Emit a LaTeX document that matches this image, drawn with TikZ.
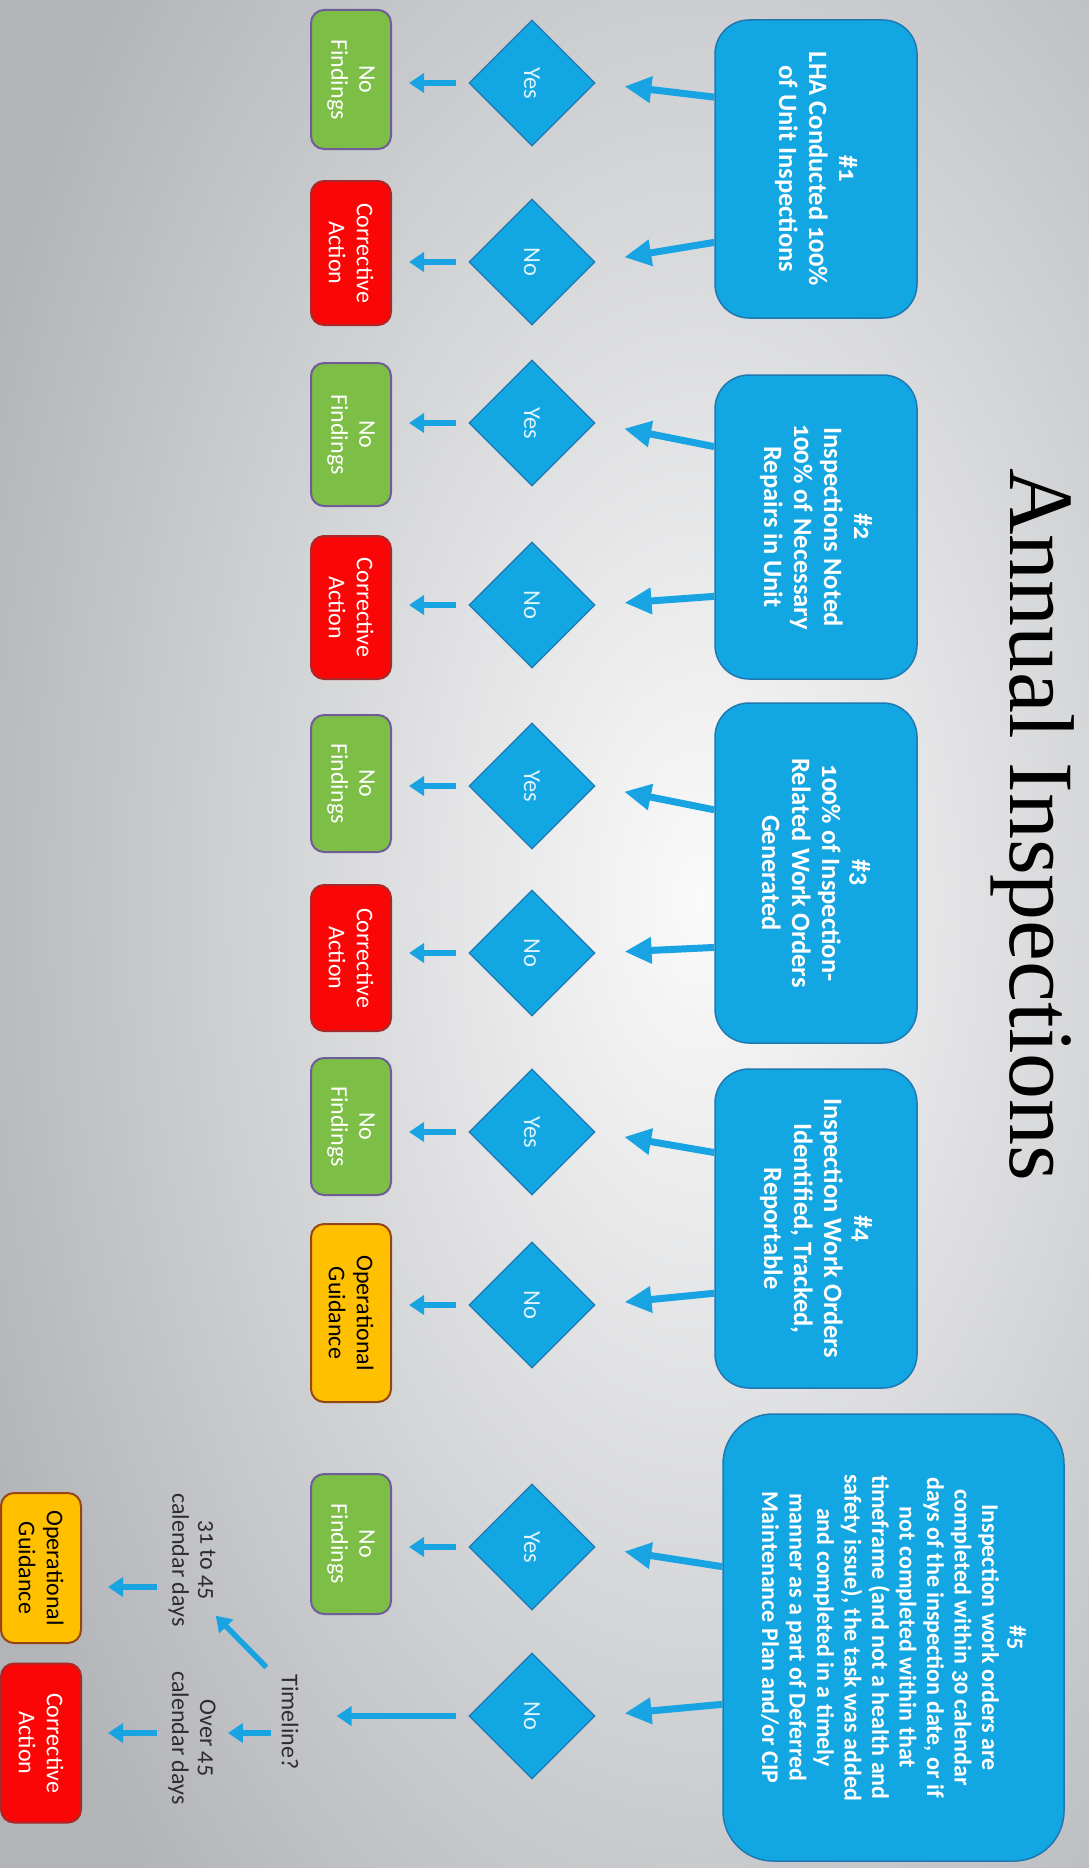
\documentclass[tikz,border=0pt]{standalone}
\usepackage{fontspec}
\setmainfont{Carlito}[Numbers=OldStyle]
\newfontfamily\titlefont{Liberation Serif}
\usetikzlibrary{shapes.geometric,arrows.meta,calc}
\definecolor{boxblue}{RGB}{18,166,226}
\definecolor{boxedge}{RGB}{32,120,178}
\definecolor{arrowblue}{RGB}{24,163,226}
\definecolor{okgreen}{RGB}{125,190,70}
\definecolor{okedge}{RGB}{112,92,150}
\definecolor{badred}{RGB}{250,6,6}
\definecolor{rededge}{RGB}{170,40,40}
\definecolor{guideorange}{RGB}{255,192,0}
\definecolor{orangeedge}{RGB}{150,70,20}
\definecolor{bgouter}{RGB}{178,180,184}
\definecolor{bginner}{RGB}{250,250,250}
\definecolor{labelgray}{RGB}{45,45,45}
\definecolor{paletext}{RGB}{222,243,252}
\tikzset{
  stepbox/.style={rounded corners=34pt, fill=boxblue, draw=boxedge, line width=1.5pt,
    text=white, align=center, font=\bfseries\fontsize{26.5}{30}\selectfont, inner sep=0pt,
    minimum height=202pt},
  decision/.style={diamond, fill=boxblue, draw=boxedge, line width=1.2pt,
    minimum width=126pt, minimum height=126pt, inner sep=0pt, text=paletext,
    font=\fontsize{24.5}{26}\selectfont},
  result/.style={rounded corners=13pt, line width=2pt, minimum height=80pt,
    align=center, inner sep=0pt, font=\fontsize{24}{28}\selectfont},
  okbox/.style={result, fill=okgreen, draw=okedge, text=white},
  redbox/.style={result, fill=badred, draw=rededge, text=white},
  guidebox/.style={result, fill=guideorange, draw=orangeedge, text=black},
  plainlabel/.style={align=center, inner sep=0pt, text=labelgray,
    font=\fontsize{24}{28}\selectfont},
  bigarrow/.style={-{Triangle[length=27pt,width=25pt]}, line width=7pt, draw=arrowblue},
  smallarrow/.style={-{Triangle[length=15pt,width=19pt]}, line width=5.5pt, draw=arrowblue},
}
\begin{document}
\begin{tikzpicture}[x=1pt,y=1pt]
\begin{scope}[rotate=-90, transform shape]
\useasboundingbox (0,0) rectangle (1868,1089);
% background
\begin{scope}
\clip (0,0) rectangle (1868,1089);
\fill[bgouter] (0,0) rectangle (1868,1089);
\shade[inner color=bginner, outer color=bgouter] (900,700) ellipse (1400 and 780);
\end{scope}
% title
\node[anchor=base, inner sep=0pt, font=\titlefont\fontsize{92}{100}\selectfont, text=black] (title) at (825,1010) {Annual Inspections};
% step boxes
\node[stepbox, minimum width=298pt] (b1) at (169,816) {\#1\\LHA Conducted 100\%\\of Unit Inspections};
\node[stepbox, minimum width=304pt] (b2) at (527,816) {\#2\\Inspections Noted\\100\% of Necessary\\Repairs in Unit};
\node[stepbox, minimum width=340pt] (b3) at (873,816) {\#3\\100\% of Inspection-\\Related Work Orders\\Generated};
\node[stepbox, minimum width=319pt] (b4) at (1228.5,816) {\#4\\Inspection Work Orders\\Identified, Tracked,\\Reportable};
\node[stepbox, minimum width=447pt, minimum height=341pt, rounded corners=50pt, font=\bfseries\fontsize{24}{27.5}\selectfont] (b5) at (1637.5,893.5) {\#5\\Inspection work orders are\\completed within 30 calendar\\days of the inspection date, or if\\not completed within that\\timeframe (and not a health and\\safety issue), the task was added\\and completed in a timely\\manner as a part of Deferred\\Maintenance Plan and/or CIP};
% decisions
\node[decision] (d1y) at (83,532) {Yes};
\node[decision] (d1n) at (262,532) {No};
\node[decision] (d2y) at (423,532) {Yes};
\node[decision] (d2n) at (605,532) {No};
\node[decision] (d3y) at (786,532) {Yes};
\node[decision] (d3n) at (953,532) {No};
\node[decision] (d4y) at (1132,532) {Yes};
\node[decision] (d4n) at (1305,532) {No};
\node[decision] (d5y) at (1547,532) {Yes};
\node[decision] (d5n) at (1716,532) {No};
% results
\node[okbox, minimum width=139pt] (g1) at (79.5,351) {No\\Findings};
\node[redbox, minimum width=144pt] (r1) at (253,351) {Corrective\\Action};
\node[okbox, minimum width=143pt] (g2) at (434.5,351) {No\\Findings};
\node[redbox, minimum width=143pt] (r2) at (607.5,351) {Corrective\\Action};
\node[okbox, minimum width=137pt] (g3) at (783.5,351) {No\\Findings};
\node[redbox, minimum width=146pt] (r3) at (958,351) {Corrective\\Action};
\node[okbox, minimum width=137pt] (g4) at (1126.5,351) {No\\Findings};
\node[guidebox, minimum width=178pt] (o4) at (1313,351) {Operational\\Guidance};
\node[okbox, minimum width=140pt] (g5) at (1544,351) {No\\Findings};
\node[guidebox, minimum width=150pt] (og2) at (1568,41) {Operational\\Guidance};
\node[redbox, minimum width=159pt] (ca2) at (1743,41) {Corrective\\Action};
% timeline labels
\node[plainlabel] (tl) at (1722,290) {Timeline?};
\node[plainlabel] (l31) at (1560,192) {31 to 45\\calendar days};
\node[plainlabel] (lover) at (1738,192) {Over 45\\calendar days};
% box -> decision arrows
\draw[bigarrow, shorten >=29pt] ($(b1.south west)!0.26!(b1.south east)$) -- (d1y.north);
\draw[bigarrow, shorten >=29pt] ($(b1.south west)!0.745!(b1.south east)$) -- (d1n.north);
\draw[bigarrow, shorten >=29pt] ($(b2.south west)!0.237!(b2.south east)$) -- (d2y.north);
\draw[bigarrow, shorten >=29pt] ($(b2.south west)!0.727!(b2.south east)$) -- (d2n.north);
\draw[bigarrow, shorten >=29pt] ($(b3.south west)!0.315!(b3.south east)$) -- (d3y.north);
\draw[bigarrow, shorten >=29pt] ($(b3.south west)!0.718!(b3.south east)$) -- (d3n.north);
\draw[bigarrow, shorten >=29pt] ($(b4.south west)!0.263!(b4.south east)$) -- (d4y.north);
\draw[bigarrow, shorten >=29pt] ($(b4.south west)!0.702!(b4.south east)$) -- (d4n.north);
\draw[bigarrow, shorten >=29pt] ($(b5.south west)!0.342!(b5.south east)$) -- (d5y.north);
\draw[bigarrow, shorten >=29pt] ($(b5.south west)!0.649!(b5.south east)$) -- (d5n.north);
% decision -> result arrows (straight down the decision's axis)
\foreach \d/\r in {d1y/g1,d1n/r1,d2y/g2,d2n/r2,d3y/g3,d3n/r3,d4y/g4,d4n/o4,d5y/g5}
  \draw[smallarrow, shorten <=12pt, shorten >=17pt] (\d.south) -- ($(\d.south)!(\r.north)!(\d.north)$);
% timeline arrows
\draw[smallarrow, shorten <=12pt, shorten >=38pt] (d5n.south) -- ($(d5n.south)!(tl.north)!(d5n.north)$);
\draw[smallarrow] ($(tl.south west)+(-7,-15)$) -- ($(l31.north east)+(-11,0)$);
\coordinate (tlo) at ($(tl.south)+(11,-10)$);
\coordinate (tloup) at ($(tl.north)+(11,0)$);
\draw[smallarrow, shorten >=12pt] (tlo) -- ($(tlo)!(lover.north)!(tloup)$);
\coordinate (l31o) at ($(l31.south)+(27,0)$);
\coordinate (l31up) at ($(l31.north)+(27,0)$);
\draw[smallarrow, shorten <=11pt, shorten >=26pt] (l31o) -- ($(l31o)!(og2.north)!(l31up)$);
\coordinate (lovo) at ($(lover.south)+(-5,0)$);
\coordinate (lovup) at ($(lover.north)+(-5,0)$);
\draw[smallarrow, shorten <=11pt, shorten >=26pt] (lovo) -- ($(lovo)!(ca2.north)!(lovup)$);
\end{scope}
\end{tikzpicture}
\end{document}
